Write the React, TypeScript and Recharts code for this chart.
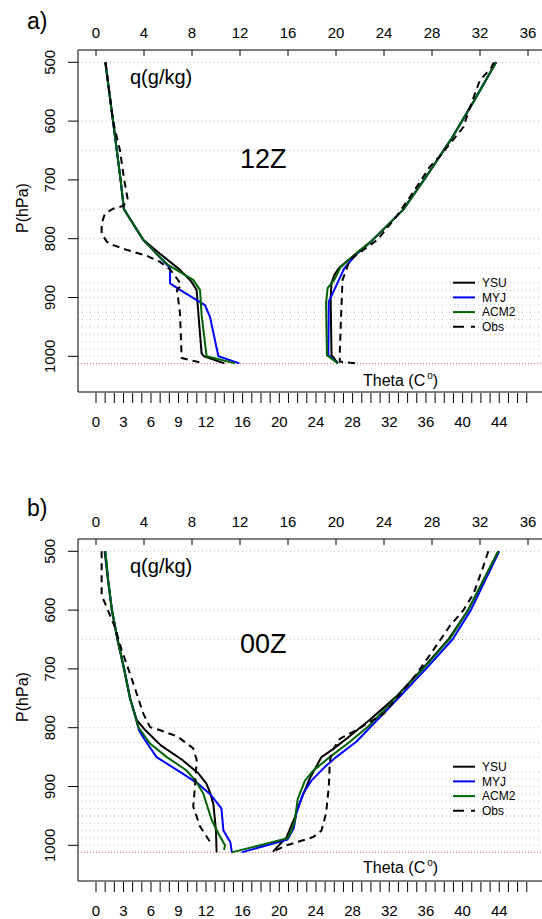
import React from "react";
import { ScatterChart, Scatter, XAxis, YAxis, ReferenceLine } from "recharts";

// ---------- axis ticks ----------
const P_TICKS = [500, 600, 700, 800, 900, 1000];
const Q_TICKS = [0, 4, 8, 12, 16, 20, 24, 28, 32, 36];
const THETA_TICKS = [
  0, 1, 2, 3, 4, 5, 6, 7, 8, 9, 10, 11, 12, 13, 14, 15, 16, 17, 18, 19, 20, 21, 22, 23,
  24, 25, 26, 27, 28, 29, 30, 31, 32, 33, 34, 35, 36, 37, 38, 39, 40, 41, 42, 43, 44, 45, 46, 47,
];
const THETA_LABELS = [0, 3, 6, 9, 12, 16, 20, 24, 28, 32, 36, 40, 44];
const GRID_LEVELS = [
  500, 600, 650, 700, 750, 800, 825, 850, 875, 887.5, 900, 912.5, 925, 937.5, 950, 962.5, 975, 987.5, 1000,
];
const SURFACE_P = 1012;

// ---------- panel a) 12Z : specific humidity ----------
const A_YSU_Q_P = [500, 600, 700, 750, 802, 825, 853, 873, 887, 927, 995, 1000, 1012];
const A_YSU_Q = [0.78, 1.42, 2.05, 2.33, 3.94, 5.3, 7.0, 7.95, 8.38, 8.53, 8.8, 9.0, 10.7];
const A_MYJ_Q_P = [500, 600, 700, 750, 802, 825, 850, 876, 887, 913, 933, 1000, 1012];
const A_MYJ_Q = [0.78, 1.42, 2.05, 2.33, 3.94, 5.0, 6.17, 6.17, 7.0, 9.08, 9.5, 10.2, 11.95];
const A_ACM_Q_P = [500, 600, 700, 750, 802, 825, 845, 870, 887, 930, 1000, 1012];
const A_ACM_Q = [0.78, 1.42, 2.05, 2.33, 3.94, 5.0, 6.03, 8.1, 8.67, 8.8, 9.22, 11.6];
const A_OBS_Q_P = [500, 600, 650, 700, 734, 744, 749, 757, 774, 791, 805, 811, 819, 829, 839, 853, 872, 879, 887, 927, 1003, 1011];
const A_OBS_Q = [0.8, 1.42, 2.0, 2.35, 2.65, 2.28, 1.44, 0.75, 0.47, 0.47, 0.89, 1.44, 2.56, 4.22, 5.3, 6.2, 6.9, 7.1, 6.75, 7.0, 7.14, 8.8];

// ---------- panel a) 12Z : potential temperature ----------
const A_YSU_T_P = [500, 564, 632, 695, 751, 805, 825, 850, 862, 875, 900, 998, 1012];
const A_YSU_T = [43.65, 41.3, 38.7, 36.0, 33.5, 30.0, 28.4, 26.5, 26.0, 25.7, 25.6, 25.7, 26.4];
const A_MYJ_T_P = [500, 564, 632, 695, 751, 805, 825, 850, 907, 998, 1012];
const A_MYJ_T = [43.65, 41.3, 38.7, 36.0, 33.5, 30.0, 28.5, 27.1, 25.4, 25.35, 26.4];
const A_ACM_T_P = [500, 564, 632, 695, 751, 805, 825, 848, 870, 884, 910, 998, 1012];
const A_ACM_T = [43.65, 41.3, 38.7, 36.0, 33.5, 30.0, 28.4, 26.7, 26.0, 25.27, 25.1, 25.2, 26.4];
const A_OBS_T_P = [500, 510, 530, 581, 610, 637, 660, 678, 700, 728, 763, 802, 822, 836, 870, 927, 995, 1009, 1012];
const A_OBS_T = [43.4, 43.1, 41.9, 40.7, 40.1, 38.7, 37.5, 36.4, 35.5, 34.3, 32.75, 30.7, 28.9, 27.7, 26.9, 26.75, 26.6, 26.6, 28.4];

// ---------- panel b) 00Z : specific humidity ----------
const B_YSU_Q_P = [500, 550, 600, 650, 700, 750, 787, 804, 830, 855, 877, 895, 910, 930, 975, 1012];
const B_YSU_Q = [0.72, 1.0, 1.32, 1.78, 2.33, 2.83, 3.4, 4.1, 5.4, 7.2, 8.5, 9.2, 9.5, 9.78, 10.0, 10.05];
const B_MYJ_Q_P = [500, 550, 600, 650, 700, 750, 805, 820, 850, 874, 895, 914, 937, 975, 995, 1012];
const B_MYJ_Q = [0.78, 1.02, 1.33, 1.8, 2.35, 2.85, 3.6, 4.05, 5.05, 6.9, 8.5, 9.55, 10.45, 10.62, 11.2, 11.32];
const B_ACM_Q_P = [500, 550, 600, 650, 700, 750, 800, 827, 850, 872, 890, 912, 957, 980, 1000, 1008];
const B_ACM_Q = [0.78, 1.02, 1.33, 1.8, 2.35, 2.83, 3.55, 4.5, 5.9, 7.5, 8.3, 8.94, 9.64, 10.2, 10.75, 10.67];
const B_OBS_Q_P = [500, 575, 595, 629, 668, 708, 742, 776, 799, 804, 815, 826, 835, 855, 900, 934, 968, 994];
const B_OBS_Q = [0.47, 0.47, 0.89, 1.58, 2.14, 2.83, 3.39, 3.94, 4.5, 5.3, 6.8, 7.5, 8.1, 8.39, 8.25, 8.1, 8.67, 9.5];

// ---------- panel b) 00Z : potential temperature ----------
const B_YSU_T_P = [1011, 986, 952, 929, 887, 850, 836, 814, 787, 748, 700, 649, 600, 500];
const B_YSU_T = [19.3, 20.8, 21.7, 22.2, 23.3, 24.6, 25.9, 27.7, 29.85, 32.7, 35.6, 38.5, 40.6, 43.9];
const B_MYJ_T_P = [1012, 990, 970, 946, 912, 890, 867, 850, 824, 798, 748, 700, 650, 600, 500];
const B_MYJ_T = [15.9, 20.9, 21.6, 21.85, 22.6, 23.5, 24.95, 26.2, 28.4, 30.0, 33.1, 36.0, 38.9, 40.9, 44.0];
const B_ACM_T_P = [1012, 988, 977, 958, 922, 890, 873, 850, 824, 798, 748, 700, 649, 600, 500];
const B_ACM_T = [14.8, 20.9, 21.3, 21.7, 22.0, 22.8, 23.7, 25.5, 27.7, 29.7, 32.8, 35.7, 38.6, 40.6, 43.9];
const B_OBS_T_P = [500, 524, 572, 600, 626, 668, 708, 736, 776, 790, 804, 819, 841, 861, 901, 946, 975, 986, 1000, 1011];
const B_OBS_T = [42.8, 42.3, 41.2, 40.1, 38.65, 36.8, 35.0, 33.55, 31.4, 29.9, 28.4, 26.6, 25.7, 25.5, 25.4, 25.1, 24.6, 23.7, 20.8, 19.3];

const SCHEMES = ["YSU", "MYJ", "ACM2", "Obs"];
const COLORS: Record<string, string> = { YSU: "#000000", MYJ: "#0000ff", ACM2: "#006400", Obs: "#000000" };

// ---------- helpers ----------
type Pt = { x: number; y: number };
const zip = (p: number[], v: number[]): Pt[] => p.map((pp, i) => ({ x: v[i], y: pp }));

const FONT = '"Liberation Sans", Arial, Helvetica, sans-serif';
const W = 542;
const PLOT_TOP = 50;
const PLOT_BOTTOM = 392;
const PLOT_LEFT = 78;
const TOP_AXIS_H = 30;
const BOTTOM_AXIS_H = 30;
const LEFT_AXIS_W = 40;
const Q_DOMAIN: [number, number] = [(PLOT_LEFT - 96) / 12, (W - 96) / 12];
const T_DOMAIN: [number, number] = [(PLOT_LEFT - 96) / 9.165, (W - 96) / 9.165];
const P_DOMAIN: [number, number] = [479.08, 1060.71];

function TopTick(props: any) {
  const { x, y, payload } = props;
  return (
    <g>
      <line x1={x} x2={x} y1={y} y2={y + 6} stroke="#000" strokeWidth={1} />
      <text x={x} y={y - 12} textAnchor="middle" fontSize={15} fontFamily={FONT} fill="#000">
        {payload.value}
      </text>
    </g>
  );
}

function BottomTick(props: any) {
  const { x, y, payload } = props;
  const show = THETA_LABELS.includes(payload.value);
  return (
    <g>
      <line x1={x} x2={x} y1={y + 1} y2={y + 11} stroke="#000" strokeWidth={1} />
      {show && (
        <text x={x} y={y + 35} textAnchor="middle" fontSize={15} fontFamily={FONT} fill="#000">
          {payload.value}
        </text>
      )}
    </g>
  );
}

function LeftTick(props: any) {
  const { x, y, payload } = props;
  const tx = x - 23;
  return (
    <g>
      <line x1={x - 10} x2={x} y1={y} y2={y} stroke="#000" strokeWidth={1} />
      <text
        x={tx}
        y={y}
        transform={`rotate(-90 ${tx} ${y})`}
        textAnchor="middle"
        fontSize={15}
        fontFamily={FONT}
        fill="#000"
      >
        {payload.value}
      </text>
    </g>
  );
}

const NoShape = () => <g />;

type Series = { name: string; axis: "q" | "t"; data: Pt[] };

type PanelProps = {
  top: number;
  height: number;
  tag: string;
  tagY: number;
  timeLabel: string;
  timeY: number;
  pLabelY: number;
  thetaY: number;
  legendY: number;
  series: Series[];
};

function Panel(props: PanelProps) {
  const { top, height, tag, tagY, timeLabel, timeY, pLabelY, thetaY, legendY, series } = props;
  return (
    <div style={{ position: "absolute", left: 0, top, width: W, height }}>
      <ScatterChart
        width={W}
        height={height}
        margin={{
          top: PLOT_TOP - TOP_AXIS_H,
          right: 0,
          bottom: height - PLOT_BOTTOM - BOTTOM_AXIS_H,
          left: PLOT_LEFT - LEFT_AXIS_W,
        }}
      >
        <XAxis
          xAxisId="q"
          orientation="top"
          type="number"
          dataKey="x"
          domain={Q_DOMAIN}
          ticks={Q_TICKS}
          interval={0}
          height={TOP_AXIS_H}
          tickSize={0}
          tickMargin={0}
          tickLine={false}
          axisLine={{ stroke: "#000", strokeWidth: 1 }}
          tick={(p: any) => <TopTick {...p} />}
          allowDataOverflow
        />
        <XAxis
          xAxisId="t"
          orientation="bottom"
          type="number"
          dataKey="x"
          domain={T_DOMAIN}
          ticks={THETA_TICKS}
          interval={0}
          height={BOTTOM_AXIS_H}
          tickSize={0}
          tickMargin={0}
          tickLine={false}
          axisLine={{ stroke: "#000", strokeWidth: 1 }}
          tick={(p: any) => <BottomTick {...p} />}
          allowDataOverflow
        />
        <YAxis
          yAxisId="p"
          type="number"
          dataKey="y"
          domain={P_DOMAIN}
          reversed
          ticks={P_TICKS}
          interval={0}
          width={LEFT_AXIS_W}
          tickSize={0}
          tickMargin={0}
          tickLine={false}
          axisLine={{ stroke: "#000", strokeWidth: 1 }}
          tick={(p: any) => <LeftTick {...p} />}
          allowDataOverflow
        />
        {GRID_LEVELS.map((lev) => (
          <ReferenceLine
            key={lev}
            xAxisId="q"
            yAxisId="p"
            y={lev}
            stroke="#bdbdbd"
            strokeWidth={1}
            strokeDasharray="1 3"
          />
        ))}
        <ReferenceLine xAxisId="q" yAxisId="p" y={SURFACE_P} stroke="#d46a6a" strokeWidth={1} strokeDasharray="1 2" />
        {series.map((s, i) => (
          <Scatter
            key={s.name + s.axis + i}
            name={s.name}
            xAxisId={s.axis}
            yAxisId="p"
            data={s.data}
            fill={COLORS[s.name]}
            shape={NoShape}
            line={{
              stroke: COLORS[s.name],
              strokeWidth: 2,
              strokeDasharray: s.name === "Obs" ? "7 5" : undefined,
              strokeLinejoin: "round",
            }}
            lineType="joint"
            isAnimationActive={false}
            legendType="none"
          />
        ))}
      </ScatterChart>
      <svg
        width={W}
        height={height}
        style={{ position: "absolute", left: 0, top: 0, pointerEvents: "none", overflow: "visible" }}
        fontFamily={FONT}
      >
        <text x={27} y={tagY} fontSize={23} fill="#000">
          {tag}
        </text>
        <text x={130} y={84} fontSize={20} fill="#000">
          q(g/kg)
        </text>
        <text x={240} y={timeY} fontSize={27} fill="#000">
          {timeLabel}
        </text>
        <text
          x={28}
          y={pLabelY}
          transform={`rotate(-90 28 ${pLabelY})`}
          textAnchor="middle"
          fontSize={16}
          fill="#000"
        >
          P(hPa)
        </text>
        <text x={363} y={thetaY} fontSize={16} fill="#000">
          Theta (C
          <tspan fontSize={10} dy={-7} dx={2}>
            o
          </tspan>
          <tspan dy={7}>)</tspan>
        </text>
        {SCHEMES.map((name, i) => {
          const yy = legendY + i * 14.7;
          return (
            <g key={name}>
              <line
                x1={453}
                x2={475}
                y1={yy}
                y2={yy}
                stroke={COLORS[name]}
                strokeWidth={2}
                strokeDasharray={name === "Obs" ? "11 7" : undefined}
              />
              <text x={482} y={yy + 4.3} fontSize={12} fill="#000">
                {name}
              </text>
            </g>
          );
        })}
      </svg>
    </div>
  );
}

const SERIES_A: Series[] = [
  { name: "YSU", axis: "q", data: zip(A_YSU_Q_P, A_YSU_Q) },
  { name: "MYJ", axis: "q", data: zip(A_MYJ_Q_P, A_MYJ_Q) },
  { name: "ACM2", axis: "q", data: zip(A_ACM_Q_P, A_ACM_Q) },
  { name: "Obs", axis: "q", data: zip(A_OBS_Q_P, A_OBS_Q) },
  { name: "YSU", axis: "t", data: zip(A_YSU_T_P, A_YSU_T) },
  { name: "MYJ", axis: "t", data: zip(A_MYJ_T_P, A_MYJ_T) },
  { name: "ACM2", axis: "t", data: zip(A_ACM_T_P, A_ACM_T) },
  { name: "Obs", axis: "t", data: zip(A_OBS_T_P, A_OBS_T) },
];

const SERIES_B: Series[] = [
  { name: "YSU", axis: "q", data: zip(B_YSU_Q_P, B_YSU_Q) },
  { name: "MYJ", axis: "q", data: zip(B_MYJ_Q_P, B_MYJ_Q) },
  { name: "ACM2", axis: "q", data: zip(B_ACM_Q_P, B_ACM_Q) },
  { name: "Obs", axis: "q", data: zip(B_OBS_Q_P, B_OBS_Q) },
  { name: "YSU", axis: "t", data: zip(B_YSU_T_P, B_YSU_T) },
  { name: "MYJ", axis: "t", data: zip(B_MYJ_T_P, B_MYJ_T) },
  { name: "ACM2", axis: "t", data: zip(B_ACM_T_P, B_ACM_T) },
  { name: "Obs", axis: "t", data: zip(B_OBS_T_P, B_OBS_T) },
];

export default function App() {
  return (
    <div style={{ position: "absolute", left: 0, top: 0, width: W, height: 919, background: "#fff", fontFamily: FONT }}>
      <Panel
        top={0}
        height={489}
        tag="a)"
        tagY={29}
        timeLabel="12Z"
        timeY={168}
        pLabelY={208}
        thetaY={386}
        legendY={282.7}
        series={SERIES_A}
      />
      <Panel
        top={489}
        height={430}
        tag="b)"
        tagY={27}
        timeLabel="00Z"
        timeY={164}
        pLabelY={208}
        thetaY={384}
        legendY={277.7}
        series={SERIES_B}
      />
    </div>
  );
}
